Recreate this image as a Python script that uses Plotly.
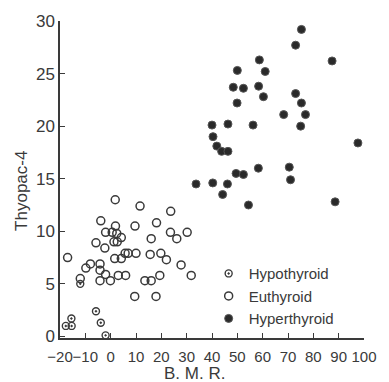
import plotly.graph_objects as go

hypo_x = [-15.5, -17.7, -15.4, -5.8, -3.9, -2.0, -12.0]
hypo_y = [1.7, 1.0, 1.0, 2.4, 1.3, 0.1, 5.0]

eu_x = [1.8, 11.6, 23.7, -3.9, 18.1, 1.9, 9.6, -2.0, 0.6, 2.4, 23.6, 30.2, -5.8, 1.3, 2.6,
        4.2, 16.0, 26.1, -2.3, 5.7, 6.9, 10.0, 15.6, 19.8, 22.0, -17.0, 1.6, 4.2, -8.0, -9.8,
        -4.2, -4.2, 27.8, -2.0, 3.0, 5.9, 19.4, 31.8, -4.2, -0.1, 13.5, 16.0, -12.0, 9.5, 17.9]
eu_y = [13.0, 12.4, 11.9, 11.0, 10.8, 10.5, 10.5, 9.9, 9.9, 9.8, 9.9, 9.9, 8.9, 9.0, 9.0,
        9.4, 9.3, 9.3, 8.4, 7.9, 7.9, 7.9, 7.8, 7.9, 7.3, 7.5, 7.4, 7.4, 6.9, 6.5,
        6.9, 6.3, 6.8, 5.9, 5.8, 5.8, 5.8, 5.8, 5.3, 5.3, 5.3, 5.3, 5.5, 3.8, 3.8]

hyper_x = [42.5, 77.2, 75.3, 73.0, 87.4, 58.7, 50.0, 61.0, 48.4, 52.4, 58.4, 73.0, 60.3, 49.9,
           75.3, 68.3, 76.9, 40.0, 46.3, 56.2, 75.0, 40.4, 97.6, 41.9, 43.8, 46.3, 49.5, 52.4,
           58.3, 70.5, 71.0, 33.7, 40.3, 46.1, 44.2, 54.4, 88.6]
hyper_y = [30.2, 30.3, 29.2, 27.7, 26.2, 26.3, 25.3, 25.2, 23.7, 23.6, 23.8, 23.1, 22.8, 22.2,
           22.2, 21.1, 21.1, 20.1, 20.2, 20.1, 20.0, 19.0, 18.4, 18.1, 17.6, 17.6, 15.5, 15.4,
           16.0, 16.1, 14.9, 14.5, 14.6, 14.5, 13.5, 12.5, 12.8]

x_ticks = [-20, -10, 0, 10, 20, 30, 40, 50, 60, 70, 80, 90, 100]
y_ticks = [0, 5, 10, 15, 20, 25, 30]

FONT = "Liberation Sans Narrow, Liberation Sans, Arial, sans-serif"
INK = "#3a3a3a"

fig = go.Figure()
fig.add_trace(go.Scatter(x=hypo_x, y=hypo_y, mode="markers", name="Hypothyroid",
                         cliponaxis=False,
                         marker=dict(symbol="circle-open-dot", size=7, color=INK,
                                     line=dict(width=1.4, color=INK))))
fig.add_trace(go.Scatter(x=eu_x, y=eu_y, mode="markers", name="Euthyroid",
                         cliponaxis=False,
                         marker=dict(symbol="circle-open", size=8, color=INK,
                                     line=dict(width=1.5, color=INK))))
fig.add_trace(go.Scatter(x=hyper_x, y=hyper_y, mode="markers", name="Hyperthyroid",
                         cliponaxis=False,
                         marker=dict(symbol="circle", size=8, color="#2a2a2a",
                                     line=dict(width=1, color="#555555"))))

fig.update_layout(
    width=389, height=382,
    margin=dict(l=60, r=14, t=17, b=44),
    paper_bgcolor="white", plot_bgcolor="white",
    font=dict(family=FONT, size=16, color=INK),
    showlegend=True,
    legend=dict(x=0.489, y=0.255, xanchor="left", yanchor="top",
                bgcolor="rgba(0,0,0,0)", font=dict(size=15, color=INK),
                tracegroupgap=0, itemsizing="trace"),
    xaxis=dict(range=[-20, 100], tickvals=x_ticks, ticks="inside", ticklen=5,
               tickcolor=INK, showline=True, linecolor=INK, linewidth=1.5,
               showgrid=False, zeroline=False, tickangle=0, ticklabelstandoff=4,
               tickfont=dict(size=15)),
    yaxis=dict(range=[-0.15, 30], tickvals=y_ticks, ticks="inside", ticklen=5,
               tickcolor=INK, showline=True, linecolor=INK, linewidth=1.5,
               showgrid=False, zeroline=False, tickfont=dict(size=17)),
    annotations=[
        dict(text="Thyopac-4", x=-0.125, y=0.464, xref="paper", yref="paper",
             xanchor="center", yanchor="middle",
             textangle=-90, showarrow=False, font=dict(size=17, color=INK)),
        dict(text="B. M. R.", x=0.441, y=-0.112, xref="paper", yref="paper",
             xanchor="center", yanchor="middle",
             showarrow=False, font=dict(size=17, color=INK)),
    ],
)

fig.write_html("out.html")
